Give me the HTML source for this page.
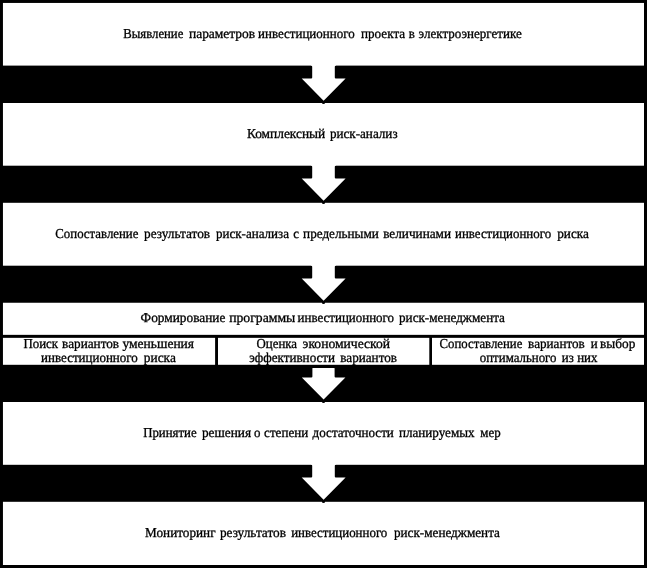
<!DOCTYPE html>
<html lang="ru">
<head>
<meta charset="utf-8">
<title>Схема</title>
<style>
html,body{margin:0;padding:0;background:#000;}
body{width:647px;height:568px;position:relative;overflow:hidden;font-family:"Liberation Serif",serif;color:#000;}
svg{position:absolute;left:0;top:0;}
#txt{filter:grayscale(1);}
#txt text{font-family:"Liberation Serif",serif;font-size:13.6px;fill:#000;stroke:#000;stroke-width:0.3px;text-rendering:geometricPrecision;white-space:pre;}
</style>
</head>
<body>
<svg id="geo" width="647" height="568" viewBox="0 0 647 568">
<g fill="#fff">
<rect x="2.95" y="2.95" width="641.05" height="62.65"/>
<rect x="2.95" y="103" width="641.05" height="62.7"/>
<rect x="2.95" y="202.8" width="641.05" height="62.9"/>
<rect x="2.95" y="302.75" width="641.05" height="32.1"/>
<rect x="2.95" y="337.85" width="212.15" height="26.95"/>
<rect x="218" y="337.85" width="211.3" height="26.95"/>
<rect x="432" y="337.85" width="212" height="26.95"/>
<rect x="2.95" y="402" width="641.05" height="62.8"/>
<rect x="2.95" y="501.8" width="641.05" height="63.2"/>
<path id="arr" d="M311.2 65 V65.65 A1 1 0 0 1 312.2 66.65 V77.5 A1 1 0 0 1 311.2 78.5 H301.7 L323.6 100.7 L345.6 78.5 H335.8 A1 1 0 0 1 334.8 77.5 V66.65 A1 1 0 0 1 335.8 65.65 V65 Z"/>
<use href="#arr" y="100"/>
<use href="#arr" y="200"/>
<use href="#arr" y="399"/>
<path d="M312.7 368 H334.3 A0.3 0.3 0 0 1 334.6 368.3 V376.5 A1 1 0 0 0 335.6 377.5 H345.4 L323.6 399.6 L301.8 377.5 H311.4 A1 1 0 0 0 312.4 376.5 V368.3 A0.3 0.3 0 0 1 312.7 368 Z"/>
</g>
<g fill="#000">
<ellipse id="nt" cx="323.5" cy="102.7" rx="1.6" ry="1.4"/>
<use href="#nt" y="100"/>
<use href="#nt" y="200"/>
<use href="#nt" y="299"/>
<use href="#nt" y="399"/>
</g>
</svg>
<svg id="txt" width="647" height="568" viewBox="0 0 647 568">
<text transform="translate(123.30 38) scale(0.9366 1)">Выявление</text>
<text transform="translate(189.00 38) scale(0.9883 1)">параметров</text>
<text transform="translate(258.10 38) scale(0.9533 1)">инвестиционного</text>
<text transform="translate(361.00 38) scale(0.9671 1)">проекта</text>
<text transform="translate(408.85 38) scale(0.9500 1)">в</text>
<text transform="translate(418.60 38) scale(0.9586 1)">электроэнергетике</text>
<text transform="translate(246.90 138) scale(0.9845 1)">Комплексный</text>
<text transform="translate(329.90 138) scale(0.9648 1)">риск-анализ</text>
<text transform="translate(55.30 238) scale(0.9437 1)">Сопоставление</text>
<text transform="translate(144.00 238) scale(0.9793 1)">результатов</text>
<text transform="translate(216.00 238) scale(0.9576 1)">риск-анализа</text>
<text transform="translate(293.15 238) scale(0.9500 1)">с</text>
<text transform="translate(303.10 238) scale(0.9683 1)">предельными</text>
<text transform="translate(383.20 238) scale(0.9733 1)">величинами</text>
<text transform="translate(455.00 238) scale(0.9493 1)">инвестиционного</text>
<text transform="translate(557.20 238) scale(0.9753 1)">риска</text>
<text transform="translate(140.60 322) scale(0.9801 1)">Формирование</text>
<text transform="translate(229.20 322) scale(1.0064 1)">программы</text>
<text transform="translate(297.60 322) scale(0.9523 1)">инвестиционного</text>
<text transform="translate(399.00 322) scale(0.9687 1)">риск-менеджмента</text>
<text transform="translate(23.40 348) scale(0.9479 1)">Поиск</text>
<text transform="translate(62.10 348) scale(0.9723 1)">вариантов</text>
<text transform="translate(122.50 348) scale(0.9933 1)">уменьшения</text>
<text transform="translate(41.10 362) scale(0.9553 1)">инвестиционного</text>
<text transform="translate(143.80 362) scale(0.9845 1)">риска</text>
<text transform="translate(256.50 348) scale(0.9463 1)">Оценка</text>
<text transform="translate(302.60 348) scale(1.0001 1)">экономической</text>
<text transform="translate(249.25 362) scale(0.9637 1)">эффективности</text>
<text transform="translate(340.30 362) scale(0.9672 1)">вариантов</text>
<text transform="translate(439.60 348) scale(0.9392 1)">Сопоставление</text>
<text transform="translate(528.10 348) scale(0.9672 1)">вариантов</text>
<text transform="translate(590.77 348) scale(0.9500 1)">и</text>
<text transform="translate(600.10 348) scale(0.9761 1)">выбор</text>
<text transform="translate(479.80 362) scale(0.9466 1)">оптимального</text>
<text transform="translate(561.77 362) scale(0.9500 1)">из</text>
<text transform="translate(577.21 362) scale(0.9500 1)">них</text>
<text transform="translate(143.20 437) scale(0.9429 1)">Принятие</text>
<text transform="translate(201.90 437) scale(0.9803 1)">решения</text>
<text transform="translate(254.12 437) scale(0.9500 1)">о</text>
<text transform="translate(264.10 437) scale(0.9607 1)">степени</text>
<text transform="translate(312.60 437) scale(0.9608 1)">достаточности</text>
<text transform="translate(399.00 437) scale(0.9625 1)">планируемых</text>
<text transform="translate(480.27 437) scale(0.9500 1)">мер</text>
<text transform="translate(145.10 537) scale(0.9712 1)">Мониторинг</text>
<text transform="translate(219.90 537) scale(0.9793 1)">результатов</text>
<text transform="translate(291.20 537) scale(0.9493 1)">инвестиционного</text>
<text transform="translate(393.90 537) scale(0.9696 1)">риск-менеджмента</text>
</svg>
</body>
</html>
